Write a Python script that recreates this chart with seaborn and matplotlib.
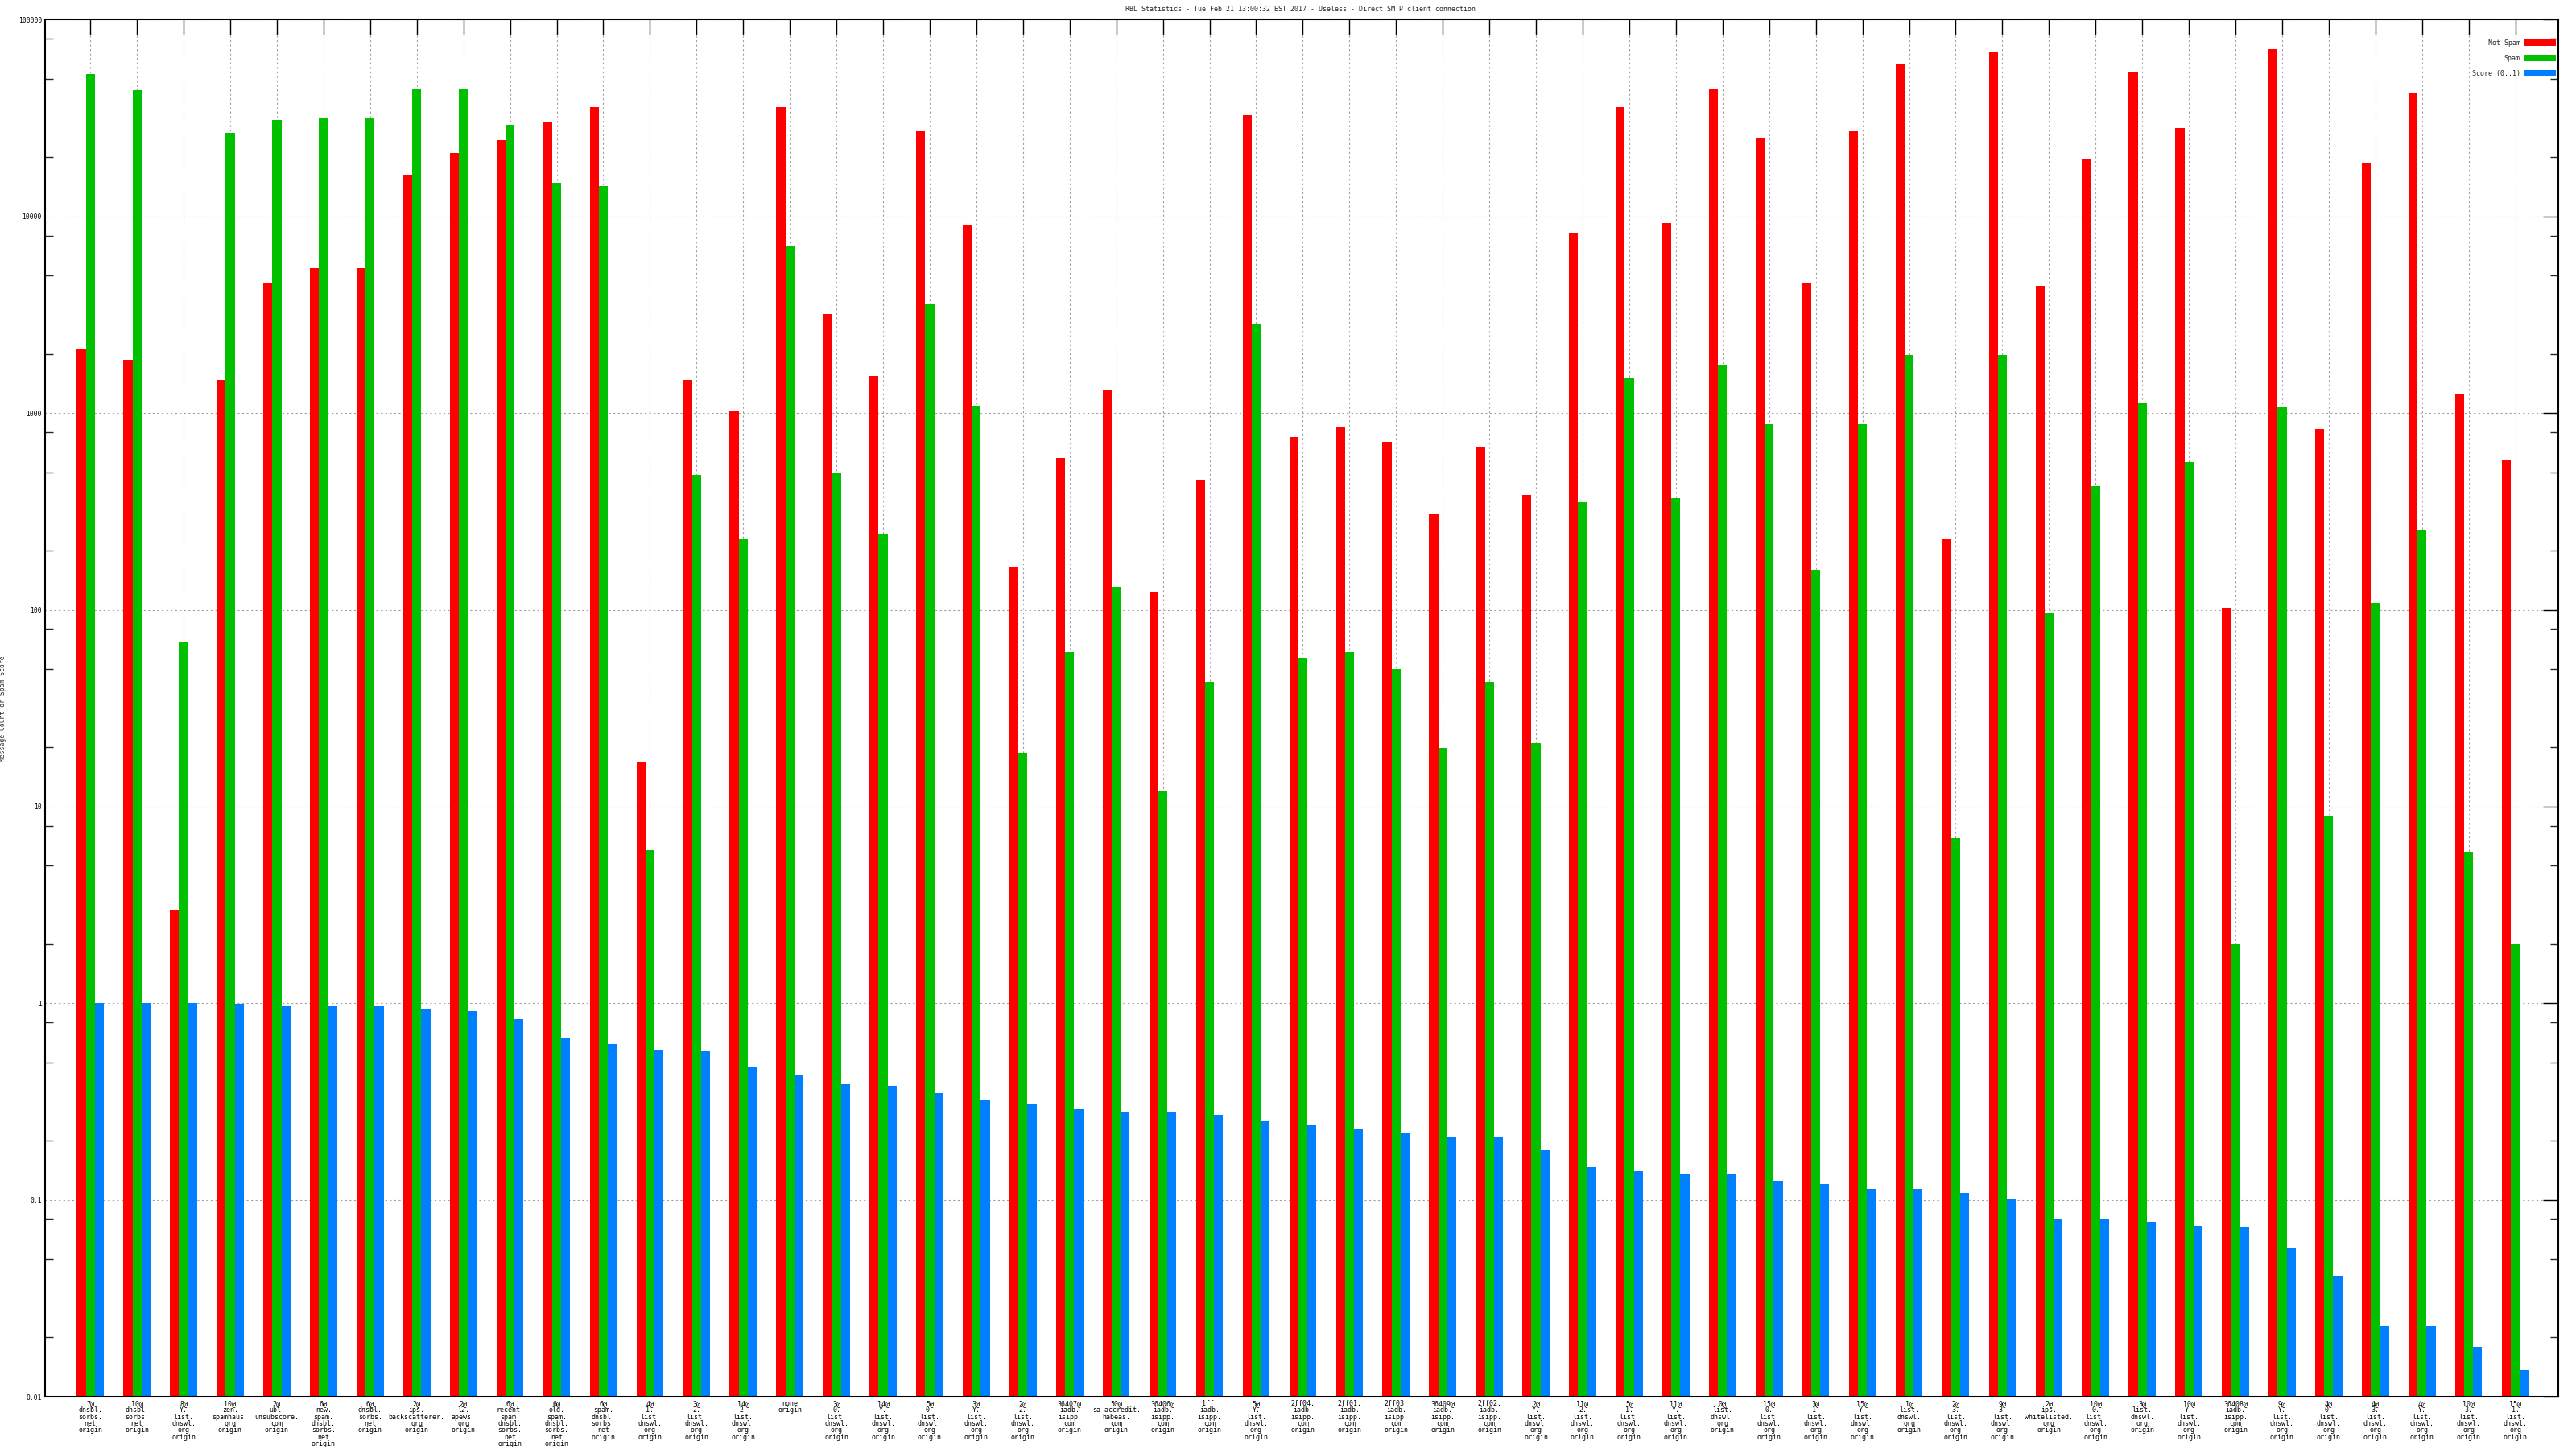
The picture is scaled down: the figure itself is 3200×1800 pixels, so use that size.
import re
import matplotlib
matplotlib.use('Agg')
import matplotlib.pyplot as plt
from matplotlib.ticker import LogLocator, NullFormatter
import pandas as pd
import seaborn as sns

# RBL sources, in chart order
sources = [
    '7@dnsbl.sorbs.net', '10@dnsbl.sorbs.net', '8@Y.list.dnswl.org',
    '10@zen.spamhaus.org', '2@ubl.unsubscore.com', '6@new.spam.dnsbl.sorbs.net',
    '6@dnsbl.sorbs.net', '2@ips.backscatterer.org', '2@l2.apews.org',
    '6@recent.spam.dnsbl.sorbs.net', '6@old.spam.dnsbl.sorbs.net',
    '6@spam.dnsbl.sorbs.net', '4@1.list.dnswl.org', '3@2.list.dnswl.org',
    '14@2.list.dnswl.org', 'none', '3@0.list.dnswl.org', '14@Y.list.dnswl.org',
    '5@0.list.dnswl.org', '3@Y.list.dnswl.org', '2@2.list.dnswl.org',
    '36407@iadb.isipp.com', '50@sa-accredit.habeas.com', '36406@iadb.isipp.com',
    '1ff.iadb.isipp.com', '5@Y.list.dnswl.org', '2ff04.iadb.isipp.com',
    '2ff01.iadb.isipp.com', '2ff03.iadb.isipp.com', '36409@iadb.isipp.com',
    '2ff02.iadb.isipp.com', '2@Y.list.dnswl.org', '11@2.list.dnswl.org',
    '5@1.list.dnswl.org', '11@Y.list.dnswl.org', '0@list.dnswl.org',
    '15@0.list.dnswl.org', '3@1.list.dnswl.org', '15@Y.list.dnswl.org',
    '1@list.dnswl.org', '2@3.list.dnswl.org', '9@3.list.dnswl.org',
    '2@ips.whitelisted.org', '10@0.list.dnswl.org', '3@list.dnswl.org',
    '10@Y.list.dnswl.org', '36408@iadb.isipp.com', '9@Y.list.dnswl.org',
    '4@0.list.dnswl.org', '4@3.list.dnswl.org', '4@Y.list.dnswl.org',
    '10@3.list.dnswl.org', '15@1.list.dnswl.org',
]

not_spam = [
    2130, 1860, 3, 1480, 4600, 5480, 5480, 16100, 21000, 24500,
    30300, 36100, 17, 1480, 1030, 36100, 3200, 1540, 27000, 9000,
    165, 590, 1320, 124, 458, 32700, 755, 847, 712, 306,
    672, 385, 8200, 36000, 9300, 44600, 25000, 4600, 27000, 59500,
    229, 68100, 4430, 19500, 54000, 28100, 102, 70700, 832, 18800,
    42800, 1245, 577,
]
spam = [
    53000, 43900, 68, 26500, 31000, 31600, 31600, 44600, 44600, 29200,
    14900, 14300, 6, 486, 229, 7100, 494, 243, 3590, 1090,
    18.8, 61, 131, 12, 43, 2850, 57, 61, 50, 19.9,
    43, 21, 356, 1510, 370, 1760, 880, 159, 880, 1980,
    6.9, 1980, 96, 424, 1130, 566, 2, 1070, 8.9, 108,
    252, 5.9, 2,
]
score = [
    1.0, 1.0, 1.0, 0.99, 0.97, 0.97, 0.97, 0.93, 0.91, 0.83,
    0.67, 0.62, 0.58, 0.57, 0.47, 0.43, 0.39, 0.38, 0.35, 0.32,
    0.31, 0.29, 0.28, 0.28, 0.27, 0.25, 0.24, 0.23, 0.22, 0.21,
    0.21, 0.18, 0.147, 0.14, 0.135, 0.135, 0.125, 0.12, 0.114, 0.114,
    0.108, 0.102, 0.08, 0.08, 0.077, 0.074, 0.073, 0.057, 0.041, 0.023,
    0.023, 0.018, 0.0136,
]

series_names = ['Not Spam', 'Spam', 'Score (0..1)']
colors = ['#ff0000', '#00c000', '#0080ff']
ytick_values = [0.01, 0.1, 1, 10, 100, 1000, 10000, 100000]
ytick_labels = ['0.01', '0.1', '1', '10', '100', '1000', '10000', '100000']
title = ('RBL Statistics - Tue Feb 21 13:00:32 EST 2017 - Useless - '
         'Direct SMTP client connection')


def wrap_label(src):
    """Break a source name after every '@' and '.' like the original chart."""
    parts = [p for p in re.split(r'(?<=[@.])', src) if p]
    return '\n'.join(parts + ['origin'])


labels = [wrap_label(s) for s in sources]

df = pd.DataFrame({
    'rbl': labels * 3,
    'series': [n for n in series_names for _ in labels],
    'value': not_spam + spam + score,
})

sns.set_style('white')
plt.rcParams['font.family'] = ['DejaVu Sans Mono', 'DejaVu Sans']

fig = plt.figure(figsize=(32, 18), dpi=100)
ax = fig.add_axes([0.0175, 0.0361, 0.9756, 0.9503])

sns.barplot(
    data=df,
    x='rbl',
    y='value',
    hue='series',
    order=labels,
    hue_order=series_names,
    palette=colors,
    saturation=1,
    width=0.58,
    gap=0,
    errorbar=None,
    linewidth=0,
    ax=ax,
)

ax.set_yscale('log')
ax.set_ylim(0.01, 100000)
ax.set_xlim(-0.97, 52.92)

ax.set_yticks(ytick_values)
ax.set_yticklabels(ytick_labels, fontsize=5.8)
ax.yaxis.set_minor_locator(LogLocator(base=10, subs=[2, 5, 8]))
ax.yaxis.set_minor_formatter(NullFormatter())

ax.set_xticks(range(len(labels)))
ax.set_xticklabels(labels, fontsize=6, linespacing=0.9)

ax.tick_params(which='major', direction='in', length=13.5, width=1,
               top=True, right=True, pad=3, colors='black')
ax.tick_params(which='minor', direction='in', length=7, width=1,
               right=True, left=True)

ax.grid(True, which='major', color='#a0a0a0', linestyle=(0, (2, 3)),
        linewidth=0.8)
ax.set_axisbelow(True)

for spine in ax.spines.values():
    spine.set_linewidth(1.5)
    spine.set_color('black')

ax.set_xlabel('')
ax.set_ylabel('Message Count or Spam Score', fontsize=5.8)
ax.yaxis.set_label_coords(-0.0154, 0.5)

sns.move_legend(
    ax,
    'upper right',
    bbox_to_anchor=(0.999, 0.986),
    frameon=False,
    markerfirst=False,
    title=None,
    fontsize=6,
    handlelength=4.8,
    handleheight=1.2,
    labelspacing=1.2,
    handletextpad=0.5,
    borderpad=0,
    borderaxespad=0,
)

fig.text(0.505, 1 - 12 / 1800, title, ha='center', va='center', fontsize=6)

fig.savefig('out.png', dpi=100)
